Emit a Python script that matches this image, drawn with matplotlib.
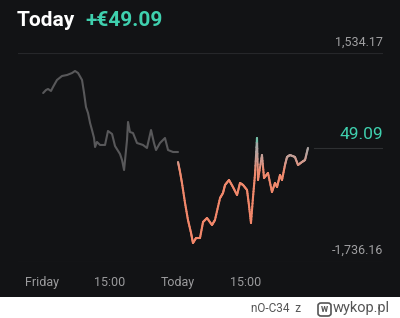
import numpy as np
import matplotlib
matplotlib.use("Agg")
import matplotlib.pyplot as plt
from matplotlib.collections import LineCollection
from matplotlib.colors import LinearSegmentedColormap, Normalize
from matplotlib.patches import FancyBboxPatch, Rectangle

plt.rcParams['font.family'] = ['Roboto', 'DejaVu Sans']

# friday session (hours from market open) and P/L in euro
fri_h = [0.1, 0.35, 0.53, 0.79, 0.97, 1.32, 1.76, 2.21, 2.65, 2.91, 3.18, 3.53, 3.71, 3.88,
         4.06, 4.24, 4.41, 4.59, 4.68, 4.85, 5.12, 5.56, 5.82, 6.18, 6.44, 6.88, 7.06, 7.24,
         7.5, 7.59, 7.76, 8.03, 8.38, 8.91, 9.26, 9.62, 9.88, 10.06, 10.41, 10.85, 11.12,
         11.56, 12.0]
fri_v = [908, 955, 971, 940, 1002, 1112, 1174, 1190, 1221, 1253, 1221, 1112, 908, 689,
         595, 439, 329, 204, 63, 142, 95, 95, 314, 267, 79, -46, -140, -297,
         173, 455, 298, 282, 126, 95, 48, 329, 126, 16, 126, 204, 16,
         -15, -15]

# today
tod_h = [12.0, 12.18, 12.35, 12.62, 12.88, 13.15, 13.32, 13.59, 13.94, 14.21, 14.56, 15.0,
         15.26, 15.71, 15.97, 16.15, 16.5, 16.85, 17.21, 17.47, 17.74, 18.09, 18.26, 18.44,
         18.62, 18.79, 18.97, 19.06, 19.41, 19.59, 19.94, 20.29, 20.56, 20.74, 21.0, 21.18,
         21.44, 21.62, 21.88, 22.32, 22.59, 22.94, 23.21, 23.47]
tod_v = [-171, -328, -500, -813, -1079, -1282, -1439, -1361, -1361, -1110, -1048, -1157,
         -1079, -735, -656, -531, -453, -563, -688, -500, -531, -609, -844, -1126,
         -719, -375, 204, -453, -62, -422, -343, -641, -500, -563, -375, -453,
         -218, -93, -62, -93, -218, -171, -140, 49.09]

tick_h = [0, 6, 12, 18]
tick_labels = ["Friday", "15:00", "Today", "15:00"]
y_max, y_min, last = 1534.17, -1736.16, 49.09

bg = "#121315"
W, H = 400, 318
fig = plt.figure(figsize=(W / 100, H / 100), dpi=100, facecolor=bg)
# white watermark strip at the bottom
fig.patches.append(Rectangle((0, 0), 1, 21 / H, transform=fig.transFigure,
                             facecolor="white", edgecolor="none", zorder=-5))

ax = fig.add_axes([18 / W, 1 - 262 / H, (383 - 18) / W, (262 - 53) / H])
ax.patch.set_alpha(0)
ax.set_xlim(-2.12, 30.09)
ax.set_ylim(y_min, y_max)
for s in ax.spines.values():
    s.set_visible(False)

ax.axhline(y_max, color="#26272a", lw=0.8)
ax.axhline(y_min, color="#26272a", lw=0.8)
ax.axhline(last, xmin=0.81, xmax=1, color="#2e3032", lw=0.8)

ax.plot(fri_h, fri_v, color="#58585a", lw=1.5, solid_joinstyle="round", solid_capstyle="round")

# gradient line coloured by value; each segment split in small pieces so the colour flows
cmap = LinearSegmentedColormap.from_list("pl", [(0, "#f2876a"), (0.5, "#ef8a6e"),
                                               (0.63, "#d4998c"), (0.8, "#b3a3a0"),
                                               (0.88, "#a8a8a6"), (1, "#5fc6a6")])
x = np.array(tod_h)
y = np.array(tod_v, dtype=float)
segs, vals = [], []
for i in range(len(x) - 1):
    t = np.linspace(0, 1, 9)
    xs = x[i] + (x[i + 1] - x[i]) * t
    ys = y[i] + (y[i + 1] - y[i]) * t
    for j in range(len(t) - 1):
        segs.append([(xs[j], ys[j]), (xs[j + 1], ys[j + 1])])
        vals.append((ys[j] + ys[j + 1]) / 2)
lc = LineCollection(segs, cmap=cmap, norm=Normalize(-800, 200), lw=1.5, capstyle="round")
lc.set_array(np.array(vals))
ax.add_collection(lc)

ax.set_xticks(tick_h)
ax.set_xticklabels(tick_labels, color="#9b9b9d", fontsize=9)
ax.set_yticks([])
ax.tick_params(axis="x", length=0, pad=10)

ax.annotate("1,534.17", (1, y_max), xycoords=("axes fraction", "data"), xytext=(0, 8),
            textcoords="offset points", ha="right", va="center", color="#a0a0a2", fontsize=9)
ax.annotate("-1,736.16", (1, y_min), xycoords=("axes fraction", "data"), xytext=(0, 8.5),
            textcoords="offset points", ha="right", va="center", color="#a0a0a2", fontsize=9)
ax.annotate("49.09", (1, last), xycoords=("axes fraction", "data"), xytext=(0, 10),
            textcoords="offset points", ha="right", va="center", color="#3fd0ae", fontsize=12.5)

fig.text(17 / W, 1 - 21 / H, "Today", color="white", fontsize=15, fontweight="bold",
         va="center", ha="left")
fig.text(85 / W, 1 - 21 / H, "+€49.09", color="#3fd0ae", fontsize=15, fontweight="bold",
         va="center", ha="left")

# watermark
fig.text(251 / W, 1 - 309 / H, "nO-C34  z", color="#555555", fontsize=8.5, va="center", ha="left")
fig.patches.append(FancyBboxPatch((318 / W, 1 - 316 / H), 13 / W, 13 / H,
                                  boxstyle="round,pad=0,rounding_size=0.008",
                                  transform=fig.transFigure, facecolor="white",
                                  edgecolor="#555555", lw=1.2))
fig.text(324.5 / W, 1 - 309.5 / H, "w", color="#555555", fontsize=7, fontweight="bold",
         va="center", ha="center")
fig.text(333 / W, 1 - 308 / H, "wykop.pl", color="#555555", fontsize=10.5, va="center", ha="left")

fig.savefig("out.png", dpi=100, facecolor=bg)
